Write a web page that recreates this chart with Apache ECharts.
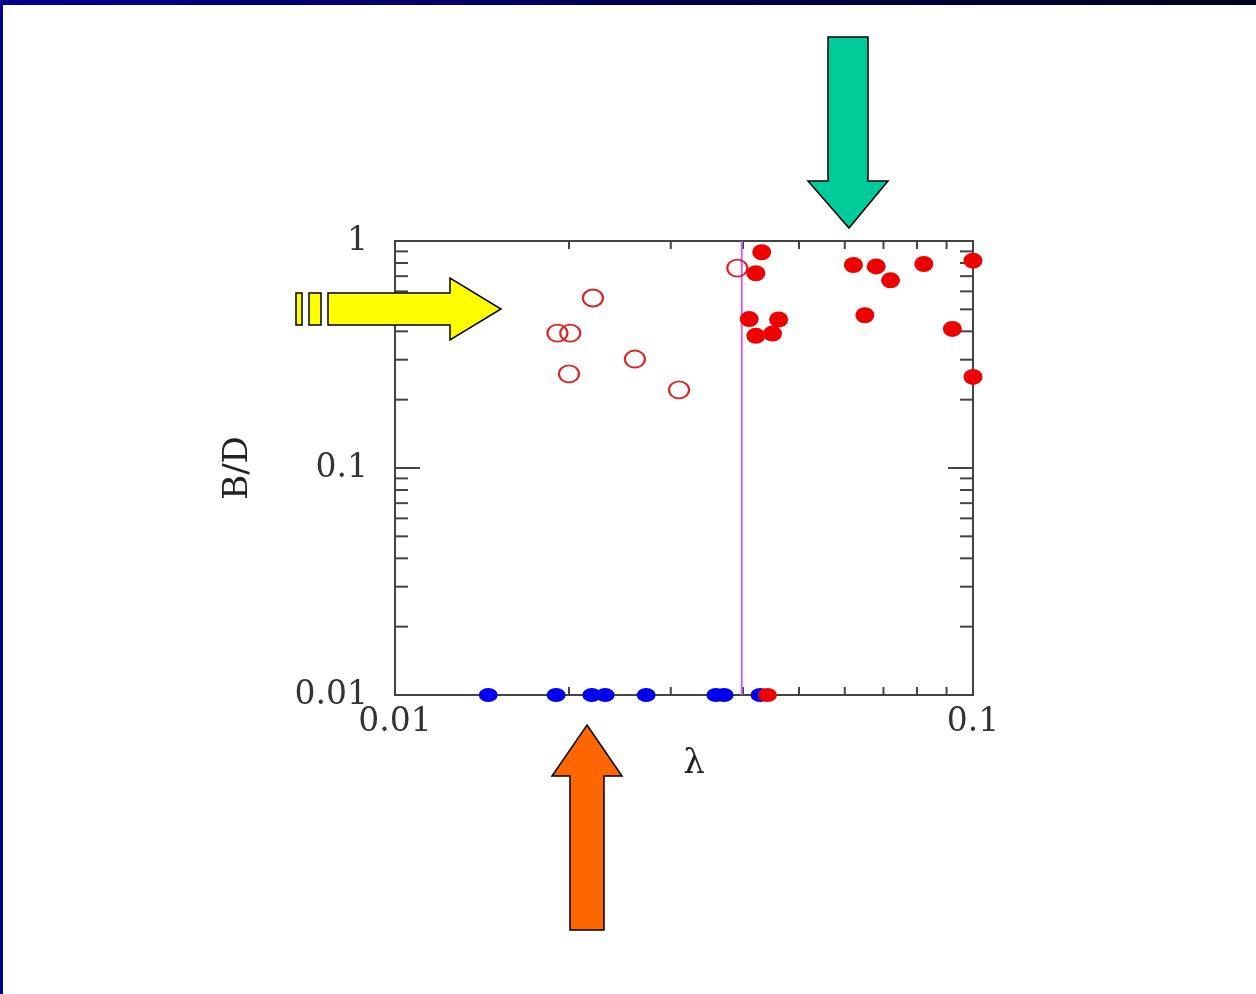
<!DOCTYPE html>
<html>
<head>
<meta charset="utf-8">
<script src="https://cdn.jsdelivr.net/npm/echarts@6/dist/echarts.min.js"></script>
<style>
html, body { margin: 0; padding: 0; background: #fff; }
#chart { width: 1256px; height: 994px; }
</style>
</head>
<body>
<div id="chart"></div>
<script>
// open circles (lambda, B/D)
var openLambda = [0.0191, 0.0201, 0.0220, 0.0200, 0.0260, 0.0310, 0.0391];
var openBD     = [0.393, 0.393, 0.561, 0.260, 0.302, 0.221, 0.760];

// filled red circles
var fullLambda = [0.0431, 0.0421, 0.0410, 0.0461, 0.0421, 0.0450, 0.0621, 0.0680, 0.0720, 0.0650, 0.0822, 0.100, 0.0921, 0.100];
var fullBD     = [0.892, 0.721, 0.453, 0.451, 0.382, 0.391, 0.784, 0.773, 0.671, 0.471, 0.792, 0.819, 0.410, 0.252];

// points sitting on the floor (B/D = 0.01)
var floorBD = 0.01;
var blueLambda = [0.0145, 0.0190, 0.0219, 0.0231, 0.0272, 0.0359, 0.0371, 0.0428];
var redFloorLambda = [0.0441];

// vertical cut
var lambdaCut = 0.0398;

// tick values
var xMinorTicks = [0.02, 0.03, 0.04, 0.05, 0.06, 0.07, 0.08, 0.09];
var yMinorTicks = [0.02, 0.03, 0.04, 0.05, 0.06, 0.07, 0.08, 0.09,
                   0.2, 0.3, 0.4, 0.5, 0.6, 0.7, 0.8, 0.9];
var yMajorTicks = [0.1];

function zip(xs, ys) {
    return xs.map(function (x, i) { return [x, ys[i]]; });
}

var tickStyle = { stroke: '#444', lineWidth: 2 };

function tickSeries(vals, dir, len) {
    return {
        type: 'custom',
        silent: true,
        clip: false,
        z: 1,
        encode: { x: 0, y: 1 },
        data: vals.map(function (v) { return dir === 'x' ? [v, 0.1] : [0.03, v]; }),
        renderItem: function (params, api) {
            var a, b;
            if (dir === 'x') {
                var v = api.value(0);
                a = api.coord([v, 0.01]);
                b = api.coord([v, 1]);
                return { type: 'group', children: [
                    { type: 'line', shape: { x1: a[0], y1: a[1], x2: a[0], y2: a[1] - len }, style: tickStyle },
                    { type: 'line', shape: { x1: b[0], y1: b[1], x2: b[0], y2: b[1] + len }, style: tickStyle }
                ] };
            }
            var w = api.value(1);
            a = api.coord([0.01, w]);
            b = api.coord([0.1, w]);
            return { type: 'group', children: [
                { type: 'line', shape: { x1: a[0], y1: a[1], x2: a[0] + len, y2: a[1] }, style: tickStyle },
                { type: 'line', shape: { x1: b[0], y1: b[1], x2: b[0] - len, y2: b[1] }, style: tickStyle }
            ] };
        }
    };
}

function arrow(points, color) {
    return {
        type: 'polygon',
        z: 100,
        shape: { points: points },
        style: { fill: color, stroke: '#000', lineWidth: 1.5 }
    };
}

var labelFont = 'DejaVu Serif';

var chart = echarts.init(document.getElementById('chart'));
option = {
    backgroundColor: '#fff',
    animation: false,
    grid: {
        left: 395, top: 241, right: 283, bottom: 299,
        show: true, borderColor: '#444', borderWidth: 2, backgroundColor: 'transparent'
    },
    xAxis: {
        type: 'log',
        logBase: 10,
        min: 0.01,
        max: 0.1,
        name: 'λ',
        nameLocation: 'middle',
        nameGap: 52,
        nameTextStyle: { fontFamily: labelFont, fontSize: 34, color: '#222', padding: [0, 0, 0, 20] },
        axisLine: { show: false },
        axisTick: { show: false },
        splitLine: { show: false },
        axisLabel: { fontFamily: labelFont, fontSize: 33, color: '#333', margin: 11 }
    },
    yAxis: {
        type: 'log',
        logBase: 10,
        min: 0.01,
        max: 1,
        name: 'B/D',
        nameLocation: 'middle',
        nameRotate: 90,
        nameGap: 140,
        nameTextStyle: { fontFamily: labelFont, fontSize: 34, color: '#222' },
        axisLine: { show: false },
        axisTick: { show: false },
        splitLine: { show: false },
        axisLabel: { fontFamily: labelFont, fontSize: 33, color: '#333', margin: 27 }
    },
    series: [
        tickSeries(xMinorTicks, 'x', 8),
        tickSeries(yMinorTicks, 'y', 13),
        tickSeries(yMajorTicks, 'y', 25),
        {
            type: 'line',
            data: [[lambdaCut, 0.01], [lambdaCut, 1]],
            symbol: 'none',
            lineStyle: { color: '#cc66ee', width: 2 },
            z: 2
        },
        {
            type: 'scatter',
            data: zip(openLambda, openBD),
            symbol: 'circle',
            symbolSize: [20, 17],
            itemStyle: { color: 'rgba(0,0,0,0)', borderColor: '#dd2222', borderWidth: 2, opacity: 1 },
            z: 3
        },
        {
            type: 'scatter',
            data: zip(fullLambda, fullBD),
            symbol: 'circle',
            symbolSize: [19, 16],
            clip: false,
            itemStyle: { color: '#ee0000', opacity: 1 },
            z: 4
        },
        {
            type: 'scatter',
            data: blueLambda.map(function (x) { return [x, floorBD]; }),
            symbol: 'circle',
            symbolSize: [19, 14],
            clip: false,
            itemStyle: { color: '#0000ee', opacity: 1 },
            z: 4
        },
        {
            type: 'scatter',
            data: redFloorLambda.map(function (x) { return [x, floorBD]; }),
            symbol: 'circle',
            symbolSize: [19, 14],
            clip: false,
            itemStyle: { color: '#ee0000', opacity: 1 },
            z: 5
        }
    ],
    graphic: [
        {
            type: 'rect', z: 100,
            shape: { x: 0, y: 0, width: 1256, height: 5 },
            style: { fill: new echarts.graphic.LinearGradient(0, 0, 1, 0, [
                { offset: 0, color: '#000090' },
                { offset: 1, color: '#00001c' }
            ]) }
        },
        {
            type: 'rect', z: 100,
            shape: { x: 0, y: 0, width: 3, height: 994 },
            style: { fill: '#000090' }
        },
        // green arrow pointing down
        arrow([[828, 37], [868, 37], [868, 181], [888, 181], [849, 228], [808, 181], [828, 181]], '#00cc99'),
        // yellow arrow pointing right, with two stripes behind
        arrow([[328, 293], [450, 293], [450, 278], [501, 309], [450, 340], [450, 325], [328, 325]], '#ffff00'),
        arrow([[309, 293], [321, 293], [321, 325], [309, 325]], '#ffff00'),
        arrow([[296, 293], [302, 293], [302, 325], [296, 325]], '#ffff00'),
        // orange arrow pointing up
        arrow([[587, 725], [622, 776], [604, 776], [604, 930], [570, 930], [570, 776], [552, 776]], '#ff6600')
    ]
};
chart.setOption(option);
</script>
</body>
</html>
